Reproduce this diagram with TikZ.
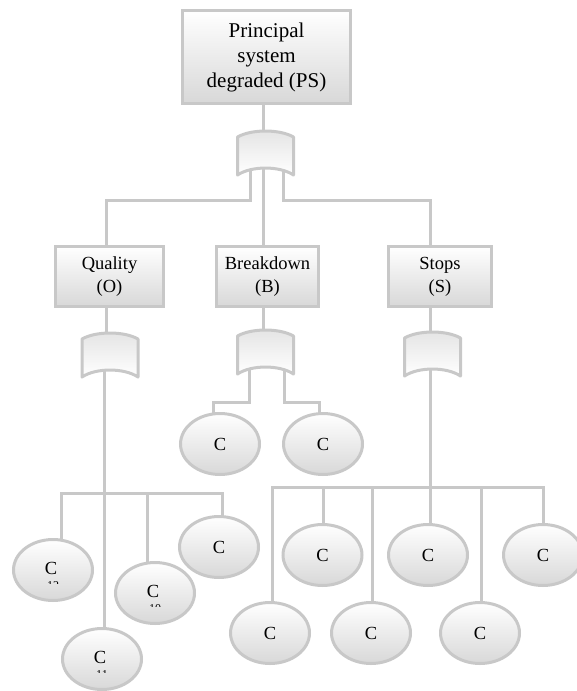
\documentclass[tikz,border=0pt]{standalone}
\usepackage{fontspec}
\setmainfont{Liberation Serif}
\usetikzlibrary{shapes.geometric,backgrounds}
\definecolor{edge}{RGB}{200,200,200}
\definecolor{shade}{RGB}{216,216,216}
\begin{document}
\begin{tikzpicture}[x=1pt,y=-1pt,
  every node/.style={inner sep=0pt, outer sep=0pt},
  event/.style={draw=edge, line width=3pt, top color=white, bottom color=shade,
    align=center, font=\fontsize{18.5}{23}\selectfont},
  topevent/.style={event, font=\fontsize{21}{25}\selectfont},
  basic/.style={draw=edge, line width=3pt, ellipse, top color=white, bottom color=shade,
    minimum width=79pt, minimum height=61pt, font=\fontsize{18.5}{22}\selectfont},
  lbl/.style={font=\fontsize{18.5}{22}\selectfont},
  tinylbl/.style={font=\fontsize{12}{12}\selectfont},
  gatebox/.style={minimum width=56pt, minimum height=44pt},
  gateshape/.style={draw=edge, line width=3pt, top color=shade!70, bottom color=white, line join=round},
  conn/.style={draw=edge, line width=3pt}
]
\useasboundingbox (0,0) rectangle (576,691);

% events
\node[topevent, minimum width=168pt, minimum height=93pt] (ps) at (266.5,57) {Principal\\system\\degraded (PS)};
\node[event, minimum width=108pt, minimum height=60pt] (q) at (109.5,276.5) {Quality\\(O)};
\node[event, minimum width=102pt, minimum height=60pt] (b) at (267.5,276.5) {Breakdown\\(B)};
\node[event, minimum width=103pt, minimum height=60pt] (s) at (440,276.5) {Stops\\(S)};

% gate placeholders
\node[gatebox] (g0) at (265.5,153) {};
\node[gatebox] (gq) at (110,355) {};
\node[gatebox] (gb) at (265.5,352) {};
\node[gatebox] (gs) at (432.5,354) {};

% basic events under Breakdown
\node[basic] (cb1) at (220,444) {C};
\node[basic] (cb2) at (323,444) {C};

% basic events under Quality
\node[basic] (c12) at (53,570) {};
\node[basic] (c10) at (155,593) {};
\node[basic] (c11) at (102,659) {};
\node[basic] (c9) at (219,547) {C};
\foreach \e/\n in {c12/12, c10/10, c11/11}{
  \node[lbl] (\e t) at ([xshift=-2pt,yshift=2pt]\e.center) {C};
  \begin{scope}
    \clip ([xshift=-15pt,yshift=-10.5pt]\e.center) rectangle ([xshift=15pt,yshift=-13.5pt]\e.center);
    \node[tinylbl] (\e s) at ([yshift=-15.5pt]\e.center) {\n};
  \end{scope}
}

% basic events under Stops
\node[basic] (cs2) at (322.5,555) {C};
\node[basic] (cs4) at (428,555) {C};
\node[basic] (cs6) at (543,555) {C};
\node[basic] (cl1) at (270,633) {C};
\node[basic] (cl2) at (371,633) {C};
\node[basic] (cl3) at (480,633) {C};

% gate outlines
\foreach \g in {g0,gq,gb,gs}{
  \draw[gateshape] (\g.south west) -- ([yshift=-6pt]\g.north west)
    .. controls ([xshift=14pt,yshift=2pt]\g.north west) and ([xshift=-14pt,yshift=2pt]\g.north east) ..
    ([yshift=-6pt]\g.north east) -- (\g.south east)
    .. controls ([xshift=-14pt,yshift=9.3pt]\g.south east) and ([xshift=14pt,yshift=9.3pt]\g.south west) ..
    (\g.south west) -- cycle;
}

\coordinate (jq) at ([xshift=-6pt,yshift=-116pt]gq.south);
\coordinate (js) at ([xshift=-2.5pt,yshift=-111pt]gs.south);

\begin{pgfonlayer}{background}
  % top level
  \draw[conn] ([xshift=-3.5pt]ps.south) -- ([xshift=-2.5pt]g0.north);
  \draw[conn] ([xshift=-15.5pt]g0.center) -- ([xshift=-15.5pt,yshift=-25pt]g0.south) -| ([xshift=-3.5pt]q.north);
  \draw[conn] ([xshift=-2.5pt]g0.center) -- ([xshift=-2.5pt]g0.south |- b.north);
  \draw[conn] ([xshift=17.5pt]g0.center) -- ([xshift=17.5pt,yshift=-25pt]g0.south) -| ([xshift=-10pt]s.north);
  % Quality branch
  \draw[conn] ([xshift=-3.5pt]q.south) -- ([xshift=-4pt]gq.north);
  \draw[conn] ([xshift=-6pt]gq.center) -- ([xshift=2pt]c11.center);
  \draw[conn] ([xshift=8pt]c12.center) |- (jq) -| ([xshift=3pt]c9.center);
  \draw[conn] ([xshift=-8pt]c10.center |- jq) -- ([xshift=-8pt]c10.center);
  % Breakdown branch
  \draw[conn] ([xshift=-4.5pt]b.south) -- ([xshift=-2.5pt]gb.north);
  \draw[conn] ([xshift=-16.5pt]gb.center) -- ([xshift=-16.5pt,yshift=-28pt]gb.south) -| ([xshift=-7pt]cb1.center);
  \draw[conn] ([xshift=18.5pt]gb.center) -- ([xshift=18.5pt,yshift=-28pt]gb.south) -| ([xshift=-4pt]cb2.center);
  % Stops branch
  \draw[conn] ([xshift=-10pt]s.south) -- ([xshift=-2.5pt]gs.north);
  \draw[conn] ([xshift=-2.5pt]gs.center) -- ([xshift=2pt]cs4.center);
  \draw[conn] ([xshift=2pt]cl1.center) |- (js) -| (cs6.center);
  \draw[conn] ([xshift=0.5pt]cs2.center |- js) -- ([xshift=0.5pt]cs2.center);
  \draw[conn] ([xshift=1pt]cl2.center |- js) -- ([xshift=1pt]cl2.center);
  \draw[conn] ([xshift=1pt]cl3.center |- js) -- ([xshift=1pt]cl3.center);
\end{pgfonlayer}
\end{tikzpicture}
\end{document}
